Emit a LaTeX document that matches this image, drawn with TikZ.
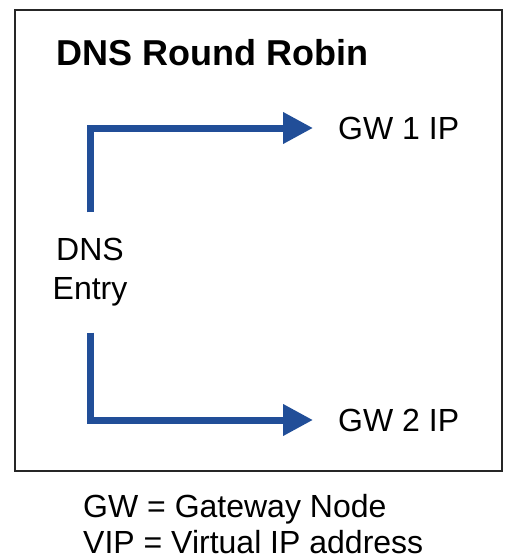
\documentclass[tikz,border=0pt]{standalone}
\usepackage{fontspec}
\setmainfont{Liberation Sans}
\usetikzlibrary{arrows.meta}
\definecolor{flowblue}{RGB}{33,78,152}
\begin{document}
\begin{tikzpicture}[x=1pt,y=-1pt,line join=miter,>={Triangle[length=30pt,width=30pt]}]
	\tikzset{txt/.style={font=\fontsize{32}{39}\selectfont,inner sep=0pt},
		flow/.style={->,draw=flowblue,line width=7pt}}
	\useasboundingbox (0,0) rectangle (511,560);
	\draw[line width=2pt,black!85] (15,10) rectangle (502,471);
	\node[txt,font=\fontsize{36}{40}\selectfont\bfseries,anchor=base west] (title) at (56,65) {DNS Round Robin};
	\node[txt,align=center,inner ysep=26pt] (dns) at (90,272.5) {DNS\\Entry};
	\node[txt,anchor=west,inner xsep=25pt] (gw1) at (313,128) {GW 1 IP};
	\node[txt,anchor=west,inner xsep=25pt] (gw2) at (313,420) {GW 2 IP};
	\draw[flow] (dns.north) |- (gw1.west);
	\draw[flow] (dns.south) |- (gw2.west);
	\node[txt,font=\fontsize{32}{36}\selectfont,align=left,anchor=base west] (key) at (83,553) {GW = Gateway Node\\VIP = Virtual IP address};
\end{tikzpicture}
\end{document}
